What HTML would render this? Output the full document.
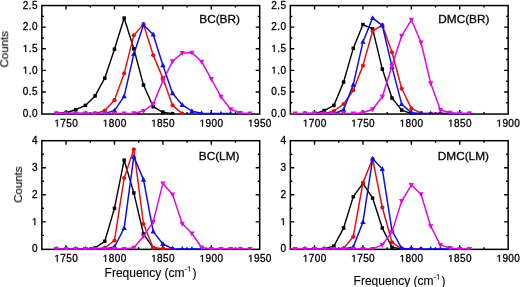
<!DOCTYPE html>
<html><head><meta charset="utf-8"><style>
html,body{margin:0;padding:0;background:#fff;}
body{width:520px;height:287px;overflow:hidden;}
svg{display:block;filter:blur(0.3px);}
text{filter:url(#gs);}
.t{font-family:"Liberation Sans", sans-serif;font-size:10px;letter-spacing:0.4px;fill:#000;stroke:#000;stroke-width:0.3px;}
.l{font-family:"Liberation Sans", sans-serif;font-size:11.8px;fill:#000;stroke:#000;stroke-width:0.3px;}
.a{font-family:"Liberation Sans", sans-serif;font-size:12px;fill:#000;stroke:#000;stroke-width:0.12px;}
.s{font-size:7.5px;}
.c{font-size:11.5px;}
path.t,path.a{filter:none;}

</style></head><body>
<svg width="520" height="287" viewBox="0 0 520 287">
<rect width="520" height="287" fill="#fff"/>
<path d="M66.06 114.05v-4M66.06 5.55v4M90.26 114.05v-2M90.26 5.55v2M114.47 114.05v-4M114.47 5.55v4M138.67 114.05v-2M138.67 5.55v2M162.88 114.05v-4M162.88 5.55v4M187.08 114.05v-2M187.08 5.55v2M211.29 114.05v-4M211.29 5.55v4M235.49 114.05v-2M235.49 5.55v2M41.85 102.79h2M259.70 102.79h-2M41.85 91.99h4M259.70 91.99h-4M41.85 81.19h2M259.70 81.19h-2M41.85 70.38h4M259.70 70.38h-4M41.85 59.57h2M259.70 59.57h-2M41.85 48.77h4M259.70 48.77h-4M41.85 37.96h2M259.70 37.96h-2M41.85 27.16h4M259.70 27.16h-4M41.85 16.36h2M259.70 16.36h-2" stroke="#000" stroke-width="1.4" fill="none"/>
<rect x="41.85" y="5.55" width="217.85" height="108.50" fill="none" stroke="#000" stroke-width="1.5"/>
<clipPath id="cTL"><rect x="41.85" y="-0.4500000000000002" width="217.85" height="115.00"/></clipPath>
<g clip-path="url(#cTL)">
<path d="M56.37 113.60 L66.06 112.74 L75.74 109.71 L85.42 105.39 L95.10 95.88 L104.78 78.16 L114.47 49.20 L124.15 18.08 L133.83 48.77 L143.51 85.07 L153.20 106.68 L162.88 112.30 L172.56 113.60" fill="none" stroke="#000000" stroke-width="1.4" stroke-linejoin="round"/>
<rect x="54.62" y="111.85" width="3.50" height="3.50" fill="#000000"/>
<rect x="64.31" y="110.99" width="3.50" height="3.50" fill="#000000"/>
<rect x="73.99" y="107.96" width="3.50" height="3.50" fill="#000000"/>
<rect x="83.67" y="103.64" width="3.50" height="3.50" fill="#000000"/>
<rect x="93.35" y="94.13" width="3.50" height="3.50" fill="#000000"/>
<rect x="103.03" y="76.41" width="3.50" height="3.50" fill="#000000"/>
<rect x="112.72" y="47.45" width="3.50" height="3.50" fill="#000000"/>
<rect x="122.40" y="16.33" width="3.50" height="3.50" fill="#000000"/>
<rect x="132.08" y="47.02" width="3.50" height="3.50" fill="#000000"/>
<rect x="141.76" y="83.32" width="3.50" height="3.50" fill="#000000"/>
<rect x="151.45" y="104.93" width="3.50" height="3.50" fill="#000000"/>
<rect x="161.13" y="110.55" width="3.50" height="3.50" fill="#000000"/>
<rect x="170.81" y="111.85" width="3.50" height="3.50" fill="#000000"/>
<path d="M56.37 113.60 L66.06 113.60 L75.74 113.60 L85.42 113.60 L95.10 113.60 L104.78 110.57 L114.47 100.20 L124.15 73.41 L133.83 35.37 L143.51 24.13 L153.20 55.25 L162.88 78.16 L172.56 105.39 L182.24 113.60" fill="none" stroke="#dc1414" stroke-width="1.5" stroke-linejoin="round"/>
<circle cx="56.37" cy="113.60" r="2.10" fill="#dc1414"/>
<circle cx="66.06" cy="113.60" r="2.10" fill="#dc1414"/>
<circle cx="75.74" cy="113.60" r="2.10" fill="#dc1414"/>
<circle cx="85.42" cy="113.60" r="2.10" fill="#dc1414"/>
<circle cx="95.10" cy="113.60" r="2.10" fill="#dc1414"/>
<circle cx="104.78" cy="110.57" r="2.10" fill="#dc1414"/>
<circle cx="114.47" cy="100.20" r="2.10" fill="#dc1414"/>
<circle cx="124.15" cy="73.41" r="2.10" fill="#dc1414"/>
<circle cx="133.83" cy="35.37" r="2.10" fill="#dc1414"/>
<circle cx="143.51" cy="24.13" r="2.10" fill="#dc1414"/>
<circle cx="153.20" cy="55.25" r="2.10" fill="#dc1414"/>
<circle cx="162.88" cy="78.16" r="2.10" fill="#dc1414"/>
<circle cx="172.56" cy="105.39" r="2.10" fill="#dc1414"/>
<circle cx="182.24" cy="113.60" r="2.10" fill="#dc1414"/>
<path d="M56.37 113.60 L66.06 113.60 L75.74 113.60 L85.42 113.60 L95.10 113.60 L104.78 113.60 L114.47 110.57 L124.15 96.31 L133.83 53.96 L143.51 25.00 L153.20 34.51 L162.88 65.19 L172.56 93.29 L182.24 104.96 L191.92 111.22 L201.61 113.17 L211.29 113.60 L220.97 113.60 L230.65 113.60" fill="none" stroke="#1010dc" stroke-width="1.5" stroke-linejoin="round"/>
<path d="M56.37 110.67L59.03 115.59L53.71 115.59Z" fill="#1010dc"/>
<path d="M66.06 110.67L68.72 115.59L63.40 115.59Z" fill="#1010dc"/>
<path d="M75.74 110.67L78.40 115.59L73.08 115.59Z" fill="#1010dc"/>
<path d="M85.42 110.67L88.08 115.59L82.76 115.59Z" fill="#1010dc"/>
<path d="M95.10 110.67L97.76 115.59L92.44 115.59Z" fill="#1010dc"/>
<path d="M104.78 110.67L107.44 115.59L102.12 115.59Z" fill="#1010dc"/>
<path d="M114.47 107.65L117.13 112.57L111.81 112.57Z" fill="#1010dc"/>
<path d="M124.15 93.39L126.81 98.31L121.49 98.31Z" fill="#1010dc"/>
<path d="M133.83 51.03L136.49 55.95L131.17 55.95Z" fill="#1010dc"/>
<path d="M143.51 22.07L146.17 26.99L140.85 26.99Z" fill="#1010dc"/>
<path d="M153.20 31.58L155.86 36.50L150.54 36.50Z" fill="#1010dc"/>
<path d="M162.88 62.27L165.54 67.19L160.22 67.19Z" fill="#1010dc"/>
<path d="M172.56 90.36L175.22 95.28L169.90 95.28Z" fill="#1010dc"/>
<path d="M182.24 102.03L184.90 106.95L179.58 106.95Z" fill="#1010dc"/>
<path d="M191.92 108.30L194.58 113.22L189.26 113.22Z" fill="#1010dc"/>
<path d="M201.61 110.24L204.27 115.16L198.95 115.16Z" fill="#1010dc"/>
<path d="M211.29 110.67L213.95 115.59L208.63 115.59Z" fill="#1010dc"/>
<path d="M220.97 110.67L223.63 115.59L218.31 115.59Z" fill="#1010dc"/>
<path d="M230.65 110.67L233.31 115.59L227.99 115.59Z" fill="#1010dc"/>
<path d="M56.37 113.60 L66.06 113.60 L75.74 113.60 L85.42 113.60 L95.10 113.60 L104.78 113.60 L114.47 113.60 L124.15 113.60 L133.83 113.17 L143.51 111.01 L153.20 104.09 L162.88 80.75 L172.56 61.30 L182.24 53.09 L191.92 52.66 L201.61 61.74 L211.29 79.02 L220.97 96.74 L230.65 109.28 L240.34 112.95 L250.02 113.60" fill="none" stroke="#d810d8" stroke-width="1.5" stroke-linejoin="round"/>
<path d="M56.37 116.53L59.03 111.60L53.71 111.60Z" fill="#d810d8"/>
<path d="M66.06 116.53L68.72 111.60L63.40 111.60Z" fill="#d810d8"/>
<path d="M75.74 116.53L78.40 111.60L73.08 111.60Z" fill="#d810d8"/>
<path d="M85.42 116.53L88.08 111.60L82.76 111.60Z" fill="#d810d8"/>
<path d="M95.10 116.53L97.76 111.60L92.44 111.60Z" fill="#d810d8"/>
<path d="M104.78 116.53L107.44 111.60L102.12 111.60Z" fill="#d810d8"/>
<path d="M114.47 116.53L117.13 111.60L111.81 111.60Z" fill="#d810d8"/>
<path d="M124.15 116.53L126.81 111.60L121.49 111.60Z" fill="#d810d8"/>
<path d="M133.83 116.09L136.49 111.17L131.17 111.17Z" fill="#d810d8"/>
<path d="M143.51 113.93L146.17 109.01L140.85 109.01Z" fill="#d810d8"/>
<path d="M153.20 107.02L155.86 102.10L150.54 102.10Z" fill="#d810d8"/>
<path d="M162.88 83.68L165.54 78.76L160.22 78.76Z" fill="#d810d8"/>
<path d="M172.56 64.23L175.22 59.31L169.90 59.31Z" fill="#d810d8"/>
<path d="M182.24 56.02L184.90 51.10L179.58 51.10Z" fill="#d810d8"/>
<path d="M191.92 55.59L194.58 50.66L189.26 50.66Z" fill="#d810d8"/>
<path d="M201.61 64.66L204.27 59.74L198.95 59.74Z" fill="#d810d8"/>
<path d="M211.29 81.95L213.95 77.03L208.63 77.03Z" fill="#d810d8"/>
<path d="M220.97 99.67L223.63 94.75L218.31 94.75Z" fill="#d810d8"/>
<path d="M230.65 112.20L233.31 107.28L227.99 107.28Z" fill="#d810d8"/>
<path d="M240.34 115.88L243.00 110.96L237.68 110.96Z" fill="#d810d8"/>
<path d="M250.02 116.53L252.68 111.60L247.36 111.60Z" fill="#d810d8"/>
</g>
<path d="M57.73 126.55L56.85 126.55L56.85 120.51L55.29 121.62L55.29 120.79L56.92 119.67L57.73 119.67Z" class="t"/><text x="60.29" y="126.55" class="t">750</text>
<path d="M106.14 126.55L105.26 126.55L105.26 120.51L103.71 121.62L103.71 120.79L105.33 119.67L106.14 119.67Z" class="t"/><text x="108.71" y="126.55" class="t">800</text>
<path d="M154.55 126.55L153.67 126.55L153.67 120.51L152.12 121.62L152.12 120.79L153.74 119.67L154.55 119.67Z" class="t"/><text x="157.12" y="126.55" class="t">850</text>
<path d="M202.96 126.55L202.08 126.55L202.08 120.51L200.53 121.62L200.53 120.79L202.15 119.67L202.96 119.67Z" class="t"/><text x="205.53" y="126.55" class="t">900</text>
<path d="M251.38 126.55L250.49 126.55L250.49 120.51L248.94 121.62L248.94 120.79L250.56 119.67L251.38 119.67Z" class="t"/><text x="253.94" y="126.55" class="t">950</text>
<text x="22.75" y="116.80" class="t">0.0</text>
<text x="22.75" y="95.19" class="t">0.5</text>
<path d="M26.15 73.58L25.26 73.58L25.26 67.54L23.71 68.65L23.71 67.82L25.34 66.70L26.15 66.70Z" class="t"/><text x="28.71" y="73.58" class="t">.0</text>
<path d="M26.15 51.97L25.26 51.97L25.26 45.93L23.71 47.04L23.71 46.21L25.34 45.09L26.15 45.09Z" class="t"/><text x="28.71" y="51.97" class="t">.5</text>
<text x="22.75" y="30.36" class="t">2.0</text>
<text x="22.75" y="8.75" class="t">2.5</text>
<path d="M314.55 114.05v-4M314.55 5.55v4M338.75 114.05v-2M338.75 5.55v2M362.95 114.05v-4M362.95 5.55v4M387.15 114.05v-2M387.15 5.55v2M411.35 114.05v-4M411.35 5.55v4M435.55 114.05v-2M435.55 5.55v2M459.75 114.05v-4M459.75 5.55v4M483.95 114.05v-2M483.95 5.55v2M290.35 102.79h2M508.15 102.79h-2M290.35 91.99h4M508.15 91.99h-4M290.35 81.19h2M508.15 81.19h-2M290.35 70.38h4M508.15 70.38h-4M290.35 59.57h2M508.15 59.57h-2M290.35 48.77h4M508.15 48.77h-4M290.35 37.96h2M508.15 37.96h-2M290.35 27.16h4M508.15 27.16h-4M290.35 16.36h2M508.15 16.36h-2" stroke="#000" stroke-width="1.4" fill="none"/>
<rect x="290.35" y="5.55" width="217.80" height="108.50" fill="none" stroke="#000" stroke-width="1.5"/>
<clipPath id="cTR"><rect x="290.35" y="-0.4500000000000002" width="217.80" height="115.00"/></clipPath>
<g clip-path="url(#cTR)">
<path d="M304.87 113.60 L314.55 113.60 L324.23 110.57 L333.91 105.39 L343.59 82.05 L353.27 48.34 L362.95 24.57 L372.63 28.89 L382.31 69.08 L391.99 98.04 L401.67 110.14 L411.35 113.60 L421.03 113.60" fill="none" stroke="#000000" stroke-width="1.4" stroke-linejoin="round"/>
<rect x="303.12" y="111.85" width="3.50" height="3.50" fill="#000000"/>
<rect x="312.80" y="111.85" width="3.50" height="3.50" fill="#000000"/>
<rect x="322.48" y="108.82" width="3.50" height="3.50" fill="#000000"/>
<rect x="332.16" y="103.64" width="3.50" height="3.50" fill="#000000"/>
<rect x="341.84" y="80.30" width="3.50" height="3.50" fill="#000000"/>
<rect x="351.52" y="46.59" width="3.50" height="3.50" fill="#000000"/>
<rect x="361.20" y="22.82" width="3.50" height="3.50" fill="#000000"/>
<rect x="370.88" y="27.14" width="3.50" height="3.50" fill="#000000"/>
<rect x="380.56" y="67.33" width="3.50" height="3.50" fill="#000000"/>
<rect x="390.24" y="96.29" width="3.50" height="3.50" fill="#000000"/>
<rect x="399.92" y="108.39" width="3.50" height="3.50" fill="#000000"/>
<rect x="409.60" y="111.85" width="3.50" height="3.50" fill="#000000"/>
<rect x="419.28" y="111.85" width="3.50" height="3.50" fill="#000000"/>
<path d="M304.87 113.60 L314.55 113.60 L324.23 113.60 L333.91 111.01 L343.59 104.09 L353.27 90.26 L362.95 65.63 L372.63 31.05 L382.31 25.00 L391.99 52.23 L401.67 88.53 L411.35 108.41 L421.03 113.17 L430.71 113.60 L440.39 113.60 L450.07 113.60" fill="none" stroke="#dc1414" stroke-width="1.5" stroke-linejoin="round"/>
<circle cx="304.87" cy="113.60" r="2.10" fill="#dc1414"/>
<circle cx="314.55" cy="113.60" r="2.10" fill="#dc1414"/>
<circle cx="324.23" cy="113.60" r="2.10" fill="#dc1414"/>
<circle cx="333.91" cy="111.01" r="2.10" fill="#dc1414"/>
<circle cx="343.59" cy="104.09" r="2.10" fill="#dc1414"/>
<circle cx="353.27" cy="90.26" r="2.10" fill="#dc1414"/>
<circle cx="362.95" cy="65.63" r="2.10" fill="#dc1414"/>
<circle cx="372.63" cy="31.05" r="2.10" fill="#dc1414"/>
<circle cx="382.31" cy="25.00" r="2.10" fill="#dc1414"/>
<circle cx="391.99" cy="52.23" r="2.10" fill="#dc1414"/>
<circle cx="401.67" cy="88.53" r="2.10" fill="#dc1414"/>
<circle cx="411.35" cy="108.41" r="2.10" fill="#dc1414"/>
<circle cx="421.03" cy="113.17" r="2.10" fill="#dc1414"/>
<circle cx="430.71" cy="113.60" r="2.10" fill="#dc1414"/>
<circle cx="440.39" cy="113.60" r="2.10" fill="#dc1414"/>
<circle cx="450.07" cy="113.60" r="2.10" fill="#dc1414"/>
<path d="M304.87 113.60 L314.55 113.60 L324.23 113.60 L333.91 113.60 L343.59 109.71 L353.27 84.64 L362.95 41.85 L372.63 18.08 L382.31 25.43 L391.99 66.92 L401.67 104.09 L411.35 112.74 L421.03 113.60 L430.71 113.60 L440.39 113.60 L450.07 113.60 L459.75 113.60 L469.43 113.60" fill="none" stroke="#1010dc" stroke-width="1.5" stroke-linejoin="round"/>
<path d="M304.87 110.67L307.53 115.59L302.21 115.59Z" fill="#1010dc"/>
<path d="M314.55 110.67L317.21 115.59L311.89 115.59Z" fill="#1010dc"/>
<path d="M324.23 110.67L326.89 115.59L321.57 115.59Z" fill="#1010dc"/>
<path d="M333.91 110.67L336.57 115.59L331.25 115.59Z" fill="#1010dc"/>
<path d="M343.59 106.78L346.25 111.71L340.93 111.71Z" fill="#1010dc"/>
<path d="M353.27 81.72L355.93 86.64L350.61 86.64Z" fill="#1010dc"/>
<path d="M362.95 38.93L365.61 43.85L360.29 43.85Z" fill="#1010dc"/>
<path d="M372.63 15.16L375.29 20.08L369.97 20.08Z" fill="#1010dc"/>
<path d="M382.31 22.51L384.97 27.43L379.65 27.43Z" fill="#1010dc"/>
<path d="M391.99 64.00L394.65 68.92L389.33 68.92Z" fill="#1010dc"/>
<path d="M401.67 101.17L404.33 106.09L399.01 106.09Z" fill="#1010dc"/>
<path d="M411.35 109.81L414.01 114.73L408.69 114.73Z" fill="#1010dc"/>
<path d="M421.03 110.67L423.69 115.59L418.37 115.59Z" fill="#1010dc"/>
<path d="M430.71 110.67L433.37 115.59L428.05 115.59Z" fill="#1010dc"/>
<path d="M440.39 110.67L443.05 115.59L437.73 115.59Z" fill="#1010dc"/>
<path d="M450.07 110.67L452.73 115.59L447.41 115.59Z" fill="#1010dc"/>
<path d="M459.75 110.67L462.41 115.59L457.09 115.59Z" fill="#1010dc"/>
<path d="M469.43 110.67L472.09 115.59L466.77 115.59Z" fill="#1010dc"/>
<path d="M285.51 113.60 L295.19 113.60 L304.87 113.60 L314.55 113.60 L324.23 113.60 L333.91 113.60 L343.59 113.60 L353.27 113.60 L362.95 112.74 L372.63 109.28 L382.31 96.74 L391.99 66.06 L401.67 35.80 L411.35 19.81 L421.03 42.50 L430.71 83.35 L440.39 109.93 L450.07 112.74 L459.75 113.60 L469.43 113.60" fill="none" stroke="#d810d8" stroke-width="1.5" stroke-linejoin="round"/>
<path d="M295.19 116.53L297.85 111.60L292.53 111.60Z" fill="#d810d8"/>
<path d="M304.87 116.53L307.53 111.60L302.21 111.60Z" fill="#d810d8"/>
<path d="M314.55 116.53L317.21 111.60L311.89 111.60Z" fill="#d810d8"/>
<path d="M324.23 116.53L326.89 111.60L321.57 111.60Z" fill="#d810d8"/>
<path d="M333.91 116.53L336.57 111.60L331.25 111.60Z" fill="#d810d8"/>
<path d="M343.59 116.53L346.25 111.60L340.93 111.60Z" fill="#d810d8"/>
<path d="M353.27 116.53L355.93 111.60L350.61 111.60Z" fill="#d810d8"/>
<path d="M362.95 115.66L365.61 110.74L360.29 110.74Z" fill="#d810d8"/>
<path d="M372.63 112.20L375.29 107.28L369.97 107.28Z" fill="#d810d8"/>
<path d="M382.31 99.67L384.97 94.75L379.65 94.75Z" fill="#d810d8"/>
<path d="M391.99 68.98L394.65 64.06L389.33 64.06Z" fill="#d810d8"/>
<path d="M401.67 38.73L404.33 33.81L399.01 33.81Z" fill="#d810d8"/>
<path d="M411.35 22.74L414.01 17.82L408.69 17.82Z" fill="#d810d8"/>
<path d="M421.03 45.43L423.69 40.51L418.37 40.51Z" fill="#d810d8"/>
<path d="M430.71 86.27L433.37 81.35L428.05 81.35Z" fill="#d810d8"/>
<path d="M440.39 112.85L443.05 107.93L437.73 107.93Z" fill="#d810d8"/>
<path d="M450.07 115.66L452.73 110.74L447.41 110.74Z" fill="#d810d8"/>
<path d="M459.75 116.53L462.41 111.60L457.09 111.60Z" fill="#d810d8"/>
<path d="M469.43 116.53L472.09 111.60L466.77 111.60Z" fill="#d810d8"/>
</g>
<path d="M306.23 126.55L305.34 126.55L305.34 120.51L303.79 121.62L303.79 120.79L305.41 119.67L306.23 119.67Z" class="t"/><text x="308.79" y="126.55" class="t">700</text>
<path d="M354.63 126.55L353.74 126.55L353.74 120.51L352.19 121.62L352.19 120.79L353.81 119.67L354.63 119.67Z" class="t"/><text x="357.19" y="126.55" class="t">750</text>
<path d="M403.03 126.55L402.14 126.55L402.14 120.51L400.59 121.62L400.59 120.79L402.21 119.67L403.03 119.67Z" class="t"/><text x="405.59" y="126.55" class="t">800</text>
<path d="M451.43 126.55L450.54 126.55L450.54 120.51L448.99 121.62L448.99 120.79L450.61 119.67L451.43 119.67Z" class="t"/><text x="453.99" y="126.55" class="t">850</text>
<path d="M499.83 126.55L498.94 126.55L498.94 120.51L497.39 121.62L497.39 120.79L499.01 119.67L499.83 119.67Z" class="t"/><text x="502.39" y="126.55" class="t">900</text>
<text x="271.25" y="116.80" class="t">0.0</text>
<text x="271.25" y="95.19" class="t">0.5</text>
<path d="M274.65 73.58L273.76 73.58L273.76 67.54L272.21 68.65L272.21 67.82L273.84 66.70L274.65 66.70Z" class="t"/><text x="277.21" y="73.58" class="t">.0</text>
<path d="M274.65 51.97L273.76 51.97L273.76 45.93L272.21 47.04L272.21 46.21L273.84 45.09L274.65 45.09Z" class="t"/><text x="277.21" y="51.97" class="t">.5</text>
<text x="271.25" y="30.36" class="t">2.0</text>
<text x="271.25" y="8.75" class="t">2.5</text>
<path d="M66.06 249.35v-4M66.06 140.70v4M90.26 249.35v-2M90.26 140.70v2M114.47 249.35v-4M114.47 140.70v4M138.67 249.35v-2M138.67 140.70v2M162.88 249.35v-4M162.88 140.70v4M187.08 249.35v-2M187.08 140.70v2M211.29 249.35v-4M211.29 140.70v4M235.49 249.35v-2M235.49 140.70v2M41.85 235.38h2M259.70 235.38h-2M41.85 221.85h4M259.70 221.85h-4M41.85 208.32h2M259.70 208.32h-2M41.85 194.80h4M259.70 194.80h-4M41.85 181.27h2M259.70 181.27h-2M41.85 167.75h4M259.70 167.75h-4M41.85 154.22h2M259.70 154.22h-2" stroke="#000" stroke-width="1.4" fill="none"/>
<rect x="41.85" y="140.7" width="217.85" height="108.65" fill="none" stroke="#000" stroke-width="1.5"/>
<clipPath id="cBL"><rect x="41.85" y="134.7" width="217.85" height="115.15"/></clipPath>
<g clip-path="url(#cBL)">
<path d="M56.37 248.90 L66.06 248.90 L75.74 248.90 L85.42 248.90 L95.10 247.82 L104.78 241.33 L114.47 208.32 L124.15 160.18 L133.83 192.91 L143.51 234.02 L153.20 247.82 L162.88 248.90" fill="none" stroke="#000000" stroke-width="1.4" stroke-linejoin="round"/>
<rect x="54.62" y="247.15" width="3.50" height="3.50" fill="#000000"/>
<rect x="64.31" y="247.15" width="3.50" height="3.50" fill="#000000"/>
<rect x="73.99" y="247.15" width="3.50" height="3.50" fill="#000000"/>
<rect x="83.67" y="247.15" width="3.50" height="3.50" fill="#000000"/>
<rect x="93.35" y="246.07" width="3.50" height="3.50" fill="#000000"/>
<rect x="103.03" y="239.58" width="3.50" height="3.50" fill="#000000"/>
<rect x="112.72" y="206.57" width="3.50" height="3.50" fill="#000000"/>
<rect x="122.40" y="158.43" width="3.50" height="3.50" fill="#000000"/>
<rect x="132.08" y="191.16" width="3.50" height="3.50" fill="#000000"/>
<rect x="141.76" y="232.27" width="3.50" height="3.50" fill="#000000"/>
<rect x="151.45" y="246.07" width="3.50" height="3.50" fill="#000000"/>
<rect x="161.13" y="247.15" width="3.50" height="3.50" fill="#000000"/>
<path d="M56.37 248.90 L66.06 248.90 L75.74 248.90 L85.42 248.90 L95.10 248.90 L104.78 247.82 L114.47 240.51 L124.15 178.03 L133.83 149.36 L143.51 224.01 L153.20 248.09 L162.88 248.90 L172.56 248.90" fill="none" stroke="#dc1414" stroke-width="1.5" stroke-linejoin="round"/>
<circle cx="56.37" cy="248.90" r="2.10" fill="#dc1414"/>
<circle cx="66.06" cy="248.90" r="2.10" fill="#dc1414"/>
<circle cx="75.74" cy="248.90" r="2.10" fill="#dc1414"/>
<circle cx="85.42" cy="248.90" r="2.10" fill="#dc1414"/>
<circle cx="95.10" cy="248.90" r="2.10" fill="#dc1414"/>
<circle cx="104.78" cy="247.82" r="2.10" fill="#dc1414"/>
<circle cx="114.47" cy="240.51" r="2.10" fill="#dc1414"/>
<circle cx="124.15" cy="178.03" r="2.10" fill="#dc1414"/>
<circle cx="133.83" cy="149.36" r="2.10" fill="#dc1414"/>
<circle cx="143.51" cy="224.01" r="2.10" fill="#dc1414"/>
<circle cx="153.20" cy="248.09" r="2.10" fill="#dc1414"/>
<circle cx="162.88" cy="248.90" r="2.10" fill="#dc1414"/>
<circle cx="172.56" cy="248.90" r="2.10" fill="#dc1414"/>
<path d="M56.37 248.90 L66.06 248.90 L75.74 248.90 L85.42 248.90 L95.10 248.90 L104.78 248.90 L114.47 247.01 L124.15 228.07 L133.83 156.66 L143.51 179.65 L153.20 231.59 L162.88 244.03 L172.56 248.63 L182.24 248.90 L191.92 248.90 L201.61 248.90" fill="none" stroke="#1010dc" stroke-width="1.5" stroke-linejoin="round"/>
<path d="M56.37 245.97L59.03 250.90L53.71 250.90Z" fill="#1010dc"/>
<path d="M66.06 245.97L68.72 250.90L63.40 250.90Z" fill="#1010dc"/>
<path d="M75.74 245.97L78.40 250.90L73.08 250.90Z" fill="#1010dc"/>
<path d="M85.42 245.97L88.08 250.90L82.76 250.90Z" fill="#1010dc"/>
<path d="M95.10 245.97L97.76 250.90L92.44 250.90Z" fill="#1010dc"/>
<path d="M104.78 245.97L107.44 250.90L102.12 250.90Z" fill="#1010dc"/>
<path d="M114.47 244.08L117.13 249.00L111.81 249.00Z" fill="#1010dc"/>
<path d="M124.15 225.15L126.81 230.07L121.49 230.07Z" fill="#1010dc"/>
<path d="M133.83 153.73L136.49 158.65L131.17 158.65Z" fill="#1010dc"/>
<path d="M143.51 176.73L146.17 181.65L140.85 181.65Z" fill="#1010dc"/>
<path d="M153.20 228.66L155.86 233.58L150.54 233.58Z" fill="#1010dc"/>
<path d="M162.88 241.11L165.54 246.03L160.22 246.03Z" fill="#1010dc"/>
<path d="M172.56 245.70L175.22 250.62L169.90 250.62Z" fill="#1010dc"/>
<path d="M182.24 245.97L184.90 250.90L179.58 250.90Z" fill="#1010dc"/>
<path d="M191.92 245.97L194.58 250.90L189.26 250.90Z" fill="#1010dc"/>
<path d="M201.61 245.97L204.27 250.90L198.95 250.90Z" fill="#1010dc"/>
<path d="M56.37 248.90 L66.06 248.90 L75.74 248.90 L85.42 248.90 L95.10 248.90 L104.78 248.90 L114.47 248.90 L124.15 248.90 L133.83 247.82 L143.51 236.19 L153.20 221.85 L162.88 183.44 L172.56 194.53 L182.24 223.74 L191.92 233.48 L201.61 247.55 L211.29 248.90 L220.97 248.90 L230.65 248.90 L240.34 248.90 L250.02 248.90" fill="none" stroke="#d810d8" stroke-width="1.5" stroke-linejoin="round"/>
<path d="M56.37 251.83L59.03 246.91L53.71 246.91Z" fill="#d810d8"/>
<path d="M66.06 251.83L68.72 246.91L63.40 246.91Z" fill="#d810d8"/>
<path d="M75.74 251.83L78.40 246.91L73.08 246.91Z" fill="#d810d8"/>
<path d="M85.42 251.83L88.08 246.91L82.76 246.91Z" fill="#d810d8"/>
<path d="M95.10 251.83L97.76 246.91L92.44 246.91Z" fill="#d810d8"/>
<path d="M104.78 251.83L107.44 246.91L102.12 246.91Z" fill="#d810d8"/>
<path d="M114.47 251.83L117.13 246.91L111.81 246.91Z" fill="#d810d8"/>
<path d="M124.15 251.83L126.81 246.91L121.49 246.91Z" fill="#d810d8"/>
<path d="M133.83 250.74L136.49 245.82L131.17 245.82Z" fill="#d810d8"/>
<path d="M143.51 239.11L146.17 234.19L140.85 234.19Z" fill="#d810d8"/>
<path d="M153.20 224.78L155.86 219.85L150.54 219.85Z" fill="#d810d8"/>
<path d="M162.88 186.36L165.54 181.44L160.22 181.44Z" fill="#d810d8"/>
<path d="M172.56 197.46L175.22 192.53L169.90 192.53Z" fill="#d810d8"/>
<path d="M182.24 226.67L184.90 221.75L179.58 221.75Z" fill="#d810d8"/>
<path d="M191.92 236.41L194.58 231.49L189.26 231.49Z" fill="#d810d8"/>
<path d="M201.61 250.47L204.27 245.55L198.95 245.55Z" fill="#d810d8"/>
<path d="M211.29 251.83L213.95 246.91L208.63 246.91Z" fill="#d810d8"/>
<path d="M220.97 251.83L223.63 246.91L218.31 246.91Z" fill="#d810d8"/>
<path d="M230.65 251.83L233.31 246.91L227.99 246.91Z" fill="#d810d8"/>
<path d="M240.34 251.83L243.00 246.91L237.68 246.91Z" fill="#d810d8"/>
<path d="M250.02 251.83L252.68 246.91L247.36 246.91Z" fill="#d810d8"/>
</g>
<path d="M57.73 261.85L56.85 261.85L56.85 255.81L55.29 256.92L55.29 256.09L56.92 254.97L57.73 254.97Z" class="t"/><text x="60.29" y="261.85" class="t">750</text>
<path d="M106.14 261.85L105.26 261.85L105.26 255.81L103.71 256.92L103.71 256.09L105.33 254.97L106.14 254.97Z" class="t"/><text x="108.71" y="261.85" class="t">800</text>
<path d="M154.55 261.85L153.67 261.85L153.67 255.81L152.12 256.92L152.12 256.09L153.74 254.97L154.55 254.97Z" class="t"/><text x="157.12" y="261.85" class="t">850</text>
<path d="M202.96 261.85L202.08 261.85L202.08 255.81L200.53 256.92L200.53 256.09L202.15 254.97L202.96 254.97Z" class="t"/><text x="205.53" y="261.85" class="t">900</text>
<path d="M251.38 261.85L250.49 261.85L250.49 255.81L248.94 256.92L248.94 256.09L250.56 254.97L251.38 254.97Z" class="t"/><text x="253.94" y="261.85" class="t">950</text>
<text x="31.89" y="252.10" class="t">0</text>
<path d="M35.29 225.05L34.40 225.05L34.40 219.01L32.85 220.12L32.85 219.29L34.48 218.17L35.29 218.17Z" class="t"/>
<text x="31.89" y="198.00" class="t">2</text>
<text x="31.89" y="170.95" class="t">3</text>
<text x="31.89" y="143.90" class="t">4</text>
<path d="M314.55 249.35v-4M314.55 140.70v4M338.75 249.35v-2M338.75 140.70v2M362.95 249.35v-4M362.95 140.70v4M387.15 249.35v-2M387.15 140.70v2M411.35 249.35v-4M411.35 140.70v4M435.55 249.35v-2M435.55 140.70v2M459.75 249.35v-4M459.75 140.70v4M483.95 249.35v-2M483.95 140.70v2M290.35 235.38h2M508.15 235.38h-2M290.35 221.85h4M508.15 221.85h-4M290.35 208.32h2M508.15 208.32h-2M290.35 194.80h4M508.15 194.80h-4M290.35 181.27h2M508.15 181.27h-2M290.35 167.75h4M508.15 167.75h-4M290.35 154.22h2M508.15 154.22h-2" stroke="#000" stroke-width="1.4" fill="none"/>
<rect x="290.35" y="140.7" width="217.80" height="108.65" fill="none" stroke="#000" stroke-width="1.5"/>
<clipPath id="cBR"><rect x="290.35" y="134.7" width="217.80" height="115.15"/></clipPath>
<g clip-path="url(#cBR)">
<path d="M304.87 248.90 L314.55 248.90 L324.23 248.63 L333.91 246.19 L343.59 228.07 L353.27 196.69 L362.95 183.44 L372.63 198.05 L382.31 228.07 L391.99 247.28 L401.67 248.90 L411.35 248.90" fill="none" stroke="#000000" stroke-width="1.4" stroke-linejoin="round"/>
<rect x="303.12" y="247.15" width="3.50" height="3.50" fill="#000000"/>
<rect x="312.80" y="247.15" width="3.50" height="3.50" fill="#000000"/>
<rect x="322.48" y="246.88" width="3.50" height="3.50" fill="#000000"/>
<rect x="332.16" y="244.44" width="3.50" height="3.50" fill="#000000"/>
<rect x="341.84" y="226.32" width="3.50" height="3.50" fill="#000000"/>
<rect x="351.52" y="194.94" width="3.50" height="3.50" fill="#000000"/>
<rect x="361.20" y="181.69" width="3.50" height="3.50" fill="#000000"/>
<rect x="370.88" y="196.30" width="3.50" height="3.50" fill="#000000"/>
<rect x="380.56" y="226.32" width="3.50" height="3.50" fill="#000000"/>
<rect x="390.24" y="245.53" width="3.50" height="3.50" fill="#000000"/>
<rect x="399.92" y="247.15" width="3.50" height="3.50" fill="#000000"/>
<rect x="409.60" y="247.15" width="3.50" height="3.50" fill="#000000"/>
<path d="M304.87 248.90 L314.55 248.90 L324.23 248.90 L333.91 248.90 L343.59 248.36 L353.27 236.73 L362.95 182.90 L372.63 158.82 L382.31 207.51 L391.99 242.41 L401.67 248.63 L411.35 248.90 L421.03 248.90" fill="none" stroke="#dc1414" stroke-width="1.5" stroke-linejoin="round"/>
<circle cx="304.87" cy="248.90" r="2.10" fill="#dc1414"/>
<circle cx="314.55" cy="248.90" r="2.10" fill="#dc1414"/>
<circle cx="324.23" cy="248.90" r="2.10" fill="#dc1414"/>
<circle cx="333.91" cy="248.90" r="2.10" fill="#dc1414"/>
<circle cx="343.59" cy="248.36" r="2.10" fill="#dc1414"/>
<circle cx="353.27" cy="236.73" r="2.10" fill="#dc1414"/>
<circle cx="362.95" cy="182.90" r="2.10" fill="#dc1414"/>
<circle cx="372.63" cy="158.82" r="2.10" fill="#dc1414"/>
<circle cx="382.31" cy="207.51" r="2.10" fill="#dc1414"/>
<circle cx="391.99" cy="242.41" r="2.10" fill="#dc1414"/>
<circle cx="401.67" cy="248.63" r="2.10" fill="#dc1414"/>
<circle cx="411.35" cy="248.90" r="2.10" fill="#dc1414"/>
<circle cx="421.03" cy="248.90" r="2.10" fill="#dc1414"/>
<path d="M304.87 248.90 L314.55 248.90 L324.23 248.90 L333.91 248.90 L343.59 248.90 L353.27 247.01 L362.95 222.12 L372.63 158.82 L382.31 169.10 L391.99 230.51 L401.67 248.36 L411.35 248.90 L421.03 248.90 L430.71 248.90 L440.39 248.90 L450.07 248.90" fill="none" stroke="#1010dc" stroke-width="1.5" stroke-linejoin="round"/>
<path d="M304.87 245.97L307.53 250.90L302.21 250.90Z" fill="#1010dc"/>
<path d="M314.55 245.97L317.21 250.90L311.89 250.90Z" fill="#1010dc"/>
<path d="M324.23 245.97L326.89 250.90L321.57 250.90Z" fill="#1010dc"/>
<path d="M333.91 245.97L336.57 250.90L331.25 250.90Z" fill="#1010dc"/>
<path d="M343.59 245.97L346.25 250.90L340.93 250.90Z" fill="#1010dc"/>
<path d="M353.27 244.08L355.93 249.00L350.61 249.00Z" fill="#1010dc"/>
<path d="M362.95 219.19L365.61 224.12L360.29 224.12Z" fill="#1010dc"/>
<path d="M372.63 155.90L375.29 160.82L369.97 160.82Z" fill="#1010dc"/>
<path d="M382.31 166.18L384.97 171.10L379.65 171.10Z" fill="#1010dc"/>
<path d="M391.99 227.58L394.65 232.50L389.33 232.50Z" fill="#1010dc"/>
<path d="M401.67 245.43L404.33 250.35L399.01 250.35Z" fill="#1010dc"/>
<path d="M411.35 245.97L414.01 250.90L408.69 250.90Z" fill="#1010dc"/>
<path d="M421.03 245.97L423.69 250.90L418.37 250.90Z" fill="#1010dc"/>
<path d="M430.71 245.97L433.37 250.90L428.05 250.90Z" fill="#1010dc"/>
<path d="M440.39 245.97L443.05 250.90L437.73 250.90Z" fill="#1010dc"/>
<path d="M450.07 245.97L452.73 250.90L447.41 250.90Z" fill="#1010dc"/>
<path d="M285.51 248.90 L295.19 248.90 L304.87 248.90 L314.55 248.90 L324.23 248.90 L333.91 248.90 L343.59 248.90 L353.27 248.90 L362.95 248.90 L372.63 248.90 L382.31 244.84 L391.99 231.86 L401.67 201.02 L411.35 185.06 L421.03 194.26 L430.71 226.18 L440.39 245.11 L450.07 248.09 L459.75 248.90 L469.43 248.90" fill="none" stroke="#d810d8" stroke-width="1.5" stroke-linejoin="round"/>
<path d="M295.19 251.83L297.85 246.91L292.53 246.91Z" fill="#d810d8"/>
<path d="M304.87 251.83L307.53 246.91L302.21 246.91Z" fill="#d810d8"/>
<path d="M314.55 251.83L317.21 246.91L311.89 246.91Z" fill="#d810d8"/>
<path d="M324.23 251.83L326.89 246.91L321.57 246.91Z" fill="#d810d8"/>
<path d="M333.91 251.83L336.57 246.91L331.25 246.91Z" fill="#d810d8"/>
<path d="M343.59 251.83L346.25 246.91L340.93 246.91Z" fill="#d810d8"/>
<path d="M353.27 251.83L355.93 246.91L350.61 246.91Z" fill="#d810d8"/>
<path d="M362.95 251.83L365.61 246.91L360.29 246.91Z" fill="#d810d8"/>
<path d="M372.63 251.83L375.29 246.91L369.97 246.91Z" fill="#d810d8"/>
<path d="M382.31 247.77L384.97 242.85L379.65 242.85Z" fill="#d810d8"/>
<path d="M391.99 234.78L394.65 229.86L389.33 229.86Z" fill="#d810d8"/>
<path d="M401.67 203.95L404.33 199.03L399.01 199.03Z" fill="#d810d8"/>
<path d="M411.35 187.99L414.01 183.07L408.69 183.07Z" fill="#d810d8"/>
<path d="M421.03 197.18L423.69 192.26L418.37 192.26Z" fill="#d810d8"/>
<path d="M430.71 229.10L433.37 224.18L428.05 224.18Z" fill="#d810d8"/>
<path d="M440.39 248.04L443.05 243.12L437.73 243.12Z" fill="#d810d8"/>
<path d="M450.07 251.01L452.73 246.09L447.41 246.09Z" fill="#d810d8"/>
<path d="M459.75 251.83L462.41 246.91L457.09 246.91Z" fill="#d810d8"/>
<path d="M469.43 251.83L472.09 246.91L466.77 246.91Z" fill="#d810d8"/>
</g>
<path d="M306.23 261.85L305.34 261.85L305.34 255.81L303.79 256.92L303.79 256.09L305.41 254.97L306.23 254.97Z" class="t"/><text x="308.79" y="261.85" class="t">700</text>
<path d="M354.63 261.85L353.74 261.85L353.74 255.81L352.19 256.92L352.19 256.09L353.81 254.97L354.63 254.97Z" class="t"/><text x="357.19" y="261.85" class="t">750</text>
<path d="M403.03 261.85L402.14 261.85L402.14 255.81L400.59 256.92L400.59 256.09L402.21 254.97L403.03 254.97Z" class="t"/><text x="405.59" y="261.85" class="t">800</text>
<path d="M451.43 261.85L450.54 261.85L450.54 255.81L448.99 256.92L448.99 256.09L450.61 254.97L451.43 254.97Z" class="t"/><text x="453.99" y="261.85" class="t">850</text>
<path d="M499.83 261.85L498.94 261.85L498.94 255.81L497.39 256.92L497.39 256.09L499.01 254.97L499.83 254.97Z" class="t"/><text x="502.39" y="261.85" class="t">900</text>
<text x="280.39" y="252.10" class="t">0</text>
<path d="M283.79 225.05L282.90 225.05L282.90 219.01L281.35 220.12L281.35 219.29L282.98 218.17L283.79 218.17Z" class="t"/>
<text x="280.39" y="198.00" class="t">2</text>
<text x="280.39" y="170.95" class="t">3</text>
<text x="280.39" y="143.90" class="t">4</text>
<filter id="gs" x="-0.2" y="-0.4" width="1.4" height="1.8"><feColorMatrix type="identity"/></filter>
<text x="199.3" y="22.7" class="l">BC(BR)</text>
<text x="438.3" y="22.8" class="l">DMC(BR)</text>
<text x="198.8" y="160.3" class="l">BC(LM)</text>
<text x="437.8" y="159.9" class="l">DMC(LM)</text>
<text transform="translate(8.2 49.3) rotate(-90)" text-anchor="middle" class="a c">Counts</text>
<text transform="translate(22.0 184.6) rotate(-90)" text-anchor="middle" class="a c">Counts</text>
<text x="104.60" y="276.60" class="a">Frequency (cm</text><text x="184.62" y="271.40" class="a s">-</text><path d="M189.67 271.40L189.01 271.40L189.01 266.87L187.84 267.70L187.84 267.08L189.06 266.24L189.67 266.24Z" class="a s"/><text x="192.59" y="276.60" class="a">)</text>
<text x="353.60" y="284.60" class="a">Frequency (cm</text><text x="433.62" y="279.40" class="a s">-</text><path d="M438.67 279.40L438.01 279.40L438.01 274.87L436.84 275.70L436.84 275.08L438.06 274.24L438.67 274.24Z" class="a s"/><text x="441.59" y="284.60" class="a">)</text>
</svg>
</body></html>
